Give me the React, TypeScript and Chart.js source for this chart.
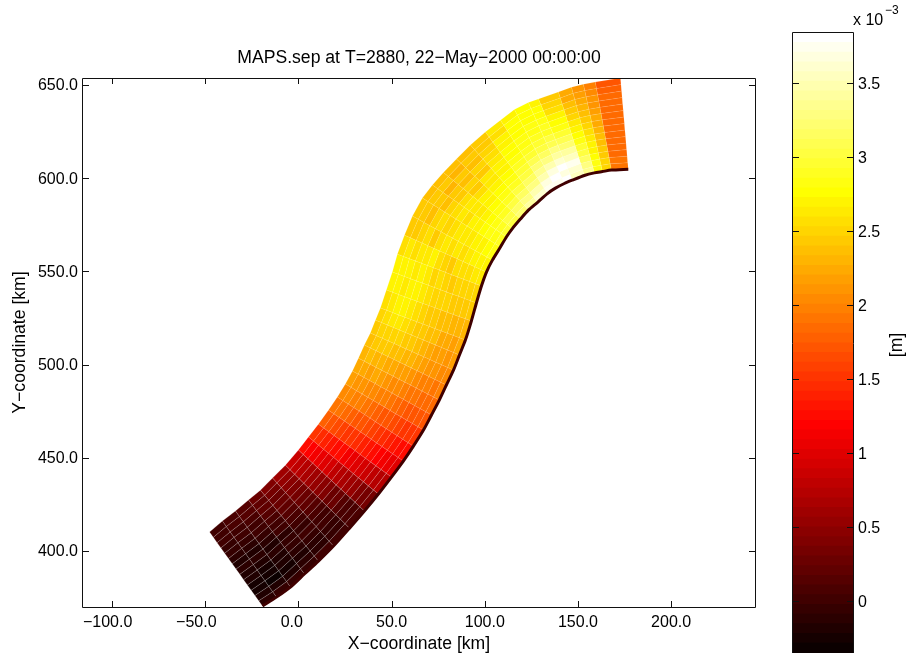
import React, { useEffect, useRef } from "react";
import { Chart, registerables } from "chart.js";

Chart.register(...registerables);

const titleText = "MAPS.sep at T=2880, 22\u2212May\u22122000 00:00:00";
const xAxisTitle = "X\u2212coordinate [km]";
const yAxisTitle = "Y\u2212coordinate [km]";
const xTickValues = [-100, -50, 0, 50, 100, 150, 200];
const xTickLabels = ["\u2212100.0  ", "\u221250.0    ", "0.0   ", "50.0", "100.0", "150.0", "200.0"];
const yTickValues = [400, 450, 500, 550, 600, 650];
const yTickLabels = ["400.0", "450.0", "500.0", "550.0", "600.0", "650.0"];
const cbarTickValues = [0, 0.5, 1, 1.5, 2, 2.5, 3, 3.5];
const cbarTickLabels = ["0", "0.5", "1", "1.5", "2", "2.5", "3", "3.5"];

// Channel banks, km: one cross-section per entry.
const leftBankX = [-47.7, -40.8, -33.8, -26.8, -20.4, -13.9, -7.0, 0, 5.4, 10.7, 16.1, 20.9, 25.2, 29.0, 32.2, 35.4, 38.6, 41.3, 44.0, 47.2, 50.4, 53.1, 56.9, 61.2, 66.5, 71.9, 77.8, 84.8, 92.3, 100.3, 108.4, 115.9, 123.4, 128.8, 139.5, 146.5, 152.9, 159.3, 172.8];
const leftBankY = [410.2, 416.1, 421.5, 427.4, 432.7, 439.2, 446.1, 454.2, 461.2, 468.1, 475.6, 482.6, 489.6, 496.6, 503.5, 510.5, 517.0, 523.9, 530.4, 540.0, 549.7, 559.3, 569.5, 579.7, 589.4, 596.4, 603.1, 610.3, 617.8, 624.8, 631.2, 636.9, 640.6, 642.6, 646.3, 648.9, 650.5, 651.6, 653.8];
const rightBankX = [-19.3, -11.8, -4.3, 3.2, 10.7, 18.8, 27.4, 35.4, 42.9, 49.9, 56.3, 61.7, 67.1, 71.4, 75.6, 79.4, 83.2, 86.4, 89.6, 92.8, 95.5, 98.2, 100.9, 104.1, 108.4, 111.6, 114.8, 119.1, 123.4, 128.2, 133.6, 137.9, 142.7, 147.0, 153.4, 158.8, 163.1, 167.9, 177.0];
const rightBankY = [370.5, 375.3, 380.7, 387.7, 394.6, 402.7, 412.3, 421.5, 430.6, 439.7, 448.3, 456.3, 464.9, 473.0, 481.0, 489.1, 497.1, 505.2, 513.2, 523.4, 533.1, 542.2, 549.7, 556.1, 563.1, 568.5, 573.0, 578.1, 582.9, 587.0, 591.8, 594.7, 597.2, 599.0, 601.5, 602.9, 603.6, 604.4, 604.9];

// Separation values (x 10^-3 m): one row per stretch, left bank to right bank.
const sepValues = [
  [0.04, 0.02, -0.01, -0.04, -0.08, -0.12, -0.16, -0.13, -0.2, -0.16, -0.24, -0.28, -0.2, -0.1],
  [0.1, 0.06, 0.02, 0, -0.06, -0.12, -0.2, -0.14, -0.18, -0.24, -0.28, -0.32, -0.22, -0.08],
  [0.16, 0.12, 0.08, 0.04, 0, -0.08, -0.14, -0.18, -0.1, -0.16, -0.2, -0.24, -0.18, -0.08],
  [0.28, 0.22, 0.18, 0.12, 0.08, 0.04, -0.02, -0.1, -0.08, -0.04, -0.12, -0.16, -0.12, -0.04],
  [0.42, 0.36, 0.3, 0.24, 0.2, 0.14, 0.08, 0.02, -0.04, -0.02, -0.08, -0.1, -0.12, -0.02],
  [0.6, 0.52, 0.46, 0.4, 0.34, 0.28, 0.22, 0.16, 0.1, 0.04, -0.02, -0.04, -0.08, 0],
  [0.85, 0.8, 0.72, 0.65, 0.58, 0.5, 0.45, 0.38, 0.3, 0.24, 0.16, 0.1, 0.05, 0.08],
  [1.25, 1.2, 1.12, 1.05, 0.98, 0.9, 0.82, 0.74, 0.68, 0.58, 0.5, 0.42, 0.36, 0.32],
  [1.5, 1.45, 1.4, 1.34, 1.28, 1.22, 1.15, 1.08, 1.02, 0.92, 0.85, 0.78, 0.72, 0.7],
  [1.75, 1.7, 1.66, 1.6, 1.54, 1.5, 1.42, 1.38, 1.3, 1.24, 1.18, 1.1, 1.05, 1.02],
  [1.92, 1.88, 1.84, 1.78, 1.74, 1.68, 1.62, 1.58, 1.52, 1.46, 1.4, 1.34, 1.28, 1.26],
  [2.05, 2.02, 1.98, 1.94, 1.9, 1.84, 1.8, 1.74, 1.7, 1.64, 1.58, 1.54, 1.5, 1.5],
  [2.14, 2.12, 2.1, 2.06, 2.04, 1.98, 1.94, 1.9, 1.86, 1.8, 1.74, 1.7, 1.68, 1.7],
  [2.22, 2.26, 2.2, 2.22, 2.14, 2.12, 2.06, 2.02, 1.98, 1.92, 1.88, 1.84, 1.82, 1.84],
  [2.3, 2.34, 2.32, 2.3, 2.26, 2.24, 2.2, 2.14, 2.1, 2.04, 2.0, 1.96, 1.9, 1.94],
  [2.38, 2.42, 2.44, 2.4, 2.38, 2.34, 2.3, 2.28, 2.22, 2.18, 2.1, 2.08, 2.02, 2.04],
  [2.46, 2.5, 2.52, 2.48, 2.5, 2.42, 2.4, 2.34, 2.32, 2.26, 2.2, 2.16, 2.12, 2.14],
  [2.52, 2.56, 2.6, 2.62, 2.55, 2.5, 2.46, 2.42, 2.36, 2.34, 2.26, 2.26, 2.2, 2.22],
  [2.58, 2.62, 2.66, 2.7, 2.62, 2.58, 2.52, 2.44, 2.46, 2.38, 2.34, 2.32, 2.28, 2.3],
  [2.66, 2.68, 2.64, 2.68, 2.72, 2.62, 2.56, 2.52, 2.48, 2.5, 2.42, 2.44, 2.4, 2.42],
  [2.7, 2.66, 2.7, 2.62, 2.66, 2.6, 2.52, 2.58, 2.5, 2.46, 2.5, 2.5, 2.48, 2.52],
  [2.56, 2.62, 2.58, 2.64, 2.6, 2.66, 2.58, 2.5, 2.46, 2.54, 2.58, 2.56, 2.6, 2.62],
  [2.46, 2.42, 2.52, 2.54, 2.46, 2.58, 2.62, 2.56, 2.6, 2.54, 2.6, 2.66, 2.68, 2.7],
  [2.42, 2.46, 2.38, 2.5, 2.56, 2.48, 2.54, 2.62, 2.64, 2.6, 2.68, 2.72, 2.76, 2.8],
  [2.38, 2.42, 2.44, 2.38, 2.5, 2.56, 2.6, 2.56, 2.66, 2.7, 2.76, 2.8, 2.84, 2.88],
  [2.36, 2.4, 2.32, 2.46, 2.44, 2.54, 2.6, 2.64, 2.62, 2.72, 2.76, 2.84, 2.9, 2.96],
  [2.34, 2.3, 2.42, 2.36, 2.5, 2.46, 2.58, 2.66, 2.7, 2.74, 2.8, 2.9, 3.0, 3.05],
  [2.36, 2.4, 2.34, 2.48, 2.44, 2.6, 2.64, 2.7, 2.76, 2.82, 2.9, 3.0, 3.12, 3.2],
  [2.46, 2.42, 2.5, 2.56, 2.6, 2.66, 2.72, 2.76, 2.8, 2.92, 3.0, 3.12, 3.28, 3.4],
  [2.6, 2.58, 2.66, 2.7, 2.74, 2.78, 2.8, 2.86, 2.95, 3.05, 3.15, 3.3, 3.5, 3.6],
  [2.72, 2.74, 2.76, 2.78, 2.8, 2.84, 2.9, 2.98, 3.08, 3.2, 3.35, 3.5, 3.7, 3.72],
  [2.74, 2.76, 2.76, 2.8, 2.84, 2.88, 2.95, 3.05, 3.15, 3.3, 3.48, 3.68, 3.8, 3.75],
  [2.7, 2.74, 2.78, 2.82, 2.86, 2.92, 3.0, 3.1, 3.25, 3.42, 3.6, 3.78, 3.65, 3.8],
  [2.46, 2.5, 2.58, 2.68, 2.76, 2.84, 2.95, 3.08, 3.22, 3.4, 3.55, 3.72, 3.6, 3.55],
  [2.22, 2.26, 2.34, 2.42, 2.5, 2.6, 2.7, 2.78, 2.85, 2.95, 3.05, 3.18, 3.28, 3.32],
  [2.12, 2.16, 2.22, 2.3, 2.36, 2.42, 2.5, 2.56, 2.62, 2.68, 2.72, 2.78, 2.8, 2.82],
  [2.0, 2.02, 2.08, 2.12, 2.18, 2.22, 2.26, 2.3, 2.34, 2.38, 2.42, 2.46, 2.5, 2.52],
  [1.72, 1.76, 1.84, 1.86, 1.87, 1.87, 1.87, 1.87, 1.87, 1.87, 1.87, 1.87, 1.88, 1.88],
];

const colorMin = -0.352;
const colorMax = 3.838;
const colorLevels = 64;

function hotColor(level: number): string {
  const t = (level + 1) / colorLevels;
  const r = Math.min(1, t / 0.375);
  const g = Math.max(0, Math.min(1, (t - 0.375) / 0.375));
  const b = Math.max(0, Math.min(1, (t - 0.75) / 0.25));
  return `rgb(${Math.round(r * 255)},${Math.round(g * 255)},${Math.round(b * 255)})`;
}
function colorFor(v: number): string {
  const level = Math.floor(((v - colorMin) / (colorMax - colorMin)) * colorLevels);
  return hotColor(Math.max(0, Math.min(colorLevels - 1, level)));
}

const FONT = "'Liberation Sans', Arial, sans-serif";
const TICK_SIZE = 16;
const LABEL_SIZE = 17.6;

const boxAndTicks = {
  id: "boxAndTicks",
  afterLayout(chart: any) {
    // Centre the title over the plot box, not over the padded canvas.
    const a = chart.chartArea;
    if (chart.titleBlock) {
      chart.titleBlock.left = a.left;
      chart.titleBlock.right = a.right;
    }
  },
  afterDatasetsDraw(chart: any) {
    const { ctx, chartArea: a, scales } = chart;
    ctx.save();
    ctx.strokeStyle = "#111";
    ctx.lineWidth = 1;
    ctx.beginPath();
    ctx.rect(a.left - 0.5, a.top + 0.5, a.right - a.left + 1, a.bottom - a.top);
    for (const t of scales.x.ticks) {
      const p = Math.round(scales.x.getPixelForValue(t.value)) + 0.5;
      ctx.moveTo(p, a.bottom);
      ctx.lineTo(p, a.bottom - 6);
      ctx.moveTo(p, a.top);
      ctx.lineTo(p, a.top + 6);
    }
    for (const t of scales.y.ticks) {
      const p = Math.round(scales.y.getPixelForValue(t.value)) + 0.5;
      ctx.moveTo(a.left, p);
      ctx.lineTo(a.left + 6, p);
      ctx.moveTo(a.right, p);
      ctx.lineTo(a.right - 6, p);
    }
    ctx.stroke();
    ctx.restore();
  },
};

const cbarDecor = {
  id: "cbarDecor",
  afterDatasetsDraw(chart: any) {
    const { ctx, chartArea: a, scales } = chart;
    ctx.save();
    ctx.strokeStyle = "#111";
    ctx.lineWidth = 1;
    ctx.beginPath();
    ctx.rect(a.left - 0.5, a.top - 0.5, a.right - a.left + 1, a.bottom - a.top + 4);
    for (const t of scales.y.ticks) {
      const p = Math.round(scales.y.getPixelForValue(t.value)) + 0.5;
      ctx.moveTo(a.left, p);
      ctx.lineTo(a.left + 6, p);
      ctx.moveTo(a.right, p);
      ctx.lineTo(a.right - 6, p);
    }
    ctx.stroke();
    ctx.fillStyle = "#000";
    ctx.textBaseline = "alphabetic";
    ctx.textAlign = "left";
    ctx.font = `${TICK_SIZE}px ${FONT}`;
    ctx.fillText("x 10", a.right, 25);
    ctx.font = `12px ${FONT}`;
    ctx.fillText("\u22123", a.right + 32, 14);
    ctx.translate(a.right + 44, 345);
    ctx.rotate(-Math.PI / 2);
    ctx.textAlign = "center";
    ctx.textBaseline = "middle";
    ctx.font = `${LABEL_SIZE}px ${FONT}`;
    ctx.fillText("[m]", 0, 0);
    ctx.restore();
  },
};

export default function App() {
  const mainRef = useRef<HTMLCanvasElement>(null);
  const barRef = useRef<HTMLCanvasElement>(null);

  useEffect(() => {
    const cells: any[] = [];
    const rows = sepValues[0].length;
    const section = (i: number, j: number) => {
      const f = j / rows;
      return {
        x: leftBankX[i] + (rightBankX[i] - leftBankX[i]) * f,
        y: leftBankY[i] + (rightBankY[i] - leftBankY[i]) * f,
      };
    };
    sepValues.forEach((row, i) => {
      row.forEach((v, j) => {
        const a = section(i, j), b = section(i + 1, j), c = section(i + 1, j + 1), d = section(i, j + 1);
        cells.push({
          data: [a, b, c, d, a],
          showLine: true,
          fill: "shape",
          backgroundColor: colorFor(v),
          borderColor: v < 0.9 ? "rgba(255,255,255,0.26)" : "rgba(255,255,255,0.14)",
          borderWidth: 0.6,
          pointRadius: 0,
          tension: 0,
        });
      });
    });
    const bankLine = {
      data: rightBankX.map((x, i) => ({ x, y: rightBankY[i] })),
      showLine: true,
      fill: false,
      borderColor: "#400000",
      borderWidth: 3,
      pointRadius: 0,
      tension: 0.25,
      clip: false,
      order: -1,
    };

    const main = new Chart(mainRef.current!, {
      type: "scatter",
      data: { datasets: [bankLine, ...cells] },
      plugins: [boxAndTicks],
      options: {
        animation: false,
        responsive: false,
        devicePixelRatio: 1,
        layout: { padding: { left: 0, right: 85, top: 48, bottom: 0 } },
        plugins: {
          legend: { display: false },
          tooltip: { enabled: false },
          title: {
            display: true,
            text: titleText,
            color: "#000",
            font: { family: FONT, size: LABEL_SIZE, weight: "normal" },
            padding: { top: 0, bottom: 8.88 },
          },
        },
        scales: {
          x: {
            type: "linear",
            min: -115.6,
            max: 245,
            grid: { display: false, drawTicks: false },
            border: { display: false },
            afterBuildTicks: (s: any) => { s.ticks = xTickValues.map((value) => ({ value })); },
            afterFit: (s: any) => { s.height = 48; s.paddingLeft = 0; s.paddingRight = 0; },
            ticks: {
              color: "#000",
              maxRotation: 0,
              autoSkip: false,
              padding: 6,
              font: { family: FONT, size: TICK_SIZE },
              callback: (_v: any, i: number) => xTickLabels[i],
            },
            title: {
              display: true,
              text: xAxisTitle,
              color: "#000",
              font: { family: FONT, size: LABEL_SIZE },
              padding: { top: 0, bottom: 0 },
            },
          },
          y: {
            type: "linear",
            min: 370,
            max: 653.8,
            grid: { display: false, drawTicks: false },
            border: { display: false },
            afterBuildTicks: (s: any) => { s.ticks = yTickValues.map((value) => ({ value })); },
            afterFit: (s: any) => { s.width = 83; s.paddingTop = 0; s.paddingBottom = 0; },
            ticks: {
              color: "#000",
              autoSkip: false,
              padding: 5,
              labelOffset: 1,
              font: { family: FONT, size: TICK_SIZE },
              callback: (_v: any, i: number) => yTickLabels[i],
            },
            title: {
              display: true,
              text: yAxisTitle,
              color: "#000",
              font: { family: FONT, size: LABEL_SIZE },
              padding: { top: 9.5, bottom: 0 },
            },
          },
        },
      },
    } as any);

    const bands: any[] = [];
    for (let k = 0; k < colorLevels; k++) {
      const step = (colorMax - colorMin) / colorLevels;
      bands.push({
        data: [[colorMin + k * step, colorMin + (k + 1) * step]],
        backgroundColor: hotColor(k),
        borderWidth: 0,
        inflateAmount: 0.6,
        grouped: false,
        barPercentage: 1,
        categoryPercentage: 1,
      });
    }
    const bar = new Chart(barRef.current!, {
      type: "bar",
      data: { labels: [""], datasets: bands },
      plugins: [cbarDecor],
      options: {
        animation: false,
        responsive: false,
        devicePixelRatio: 1,
        layout: { padding: { left: 23, right: 0, top: 33, bottom: 0 } },
        plugins: { legend: { display: false }, tooltip: { enabled: false }, title: { display: false } },
        scales: {
          x: { display: false },
          y: {
            type: "linear",
            position: "right",
            min: colorMin,
            max: colorMax,
            grid: { display: false, drawTicks: false },
            border: { display: false },
            afterBuildTicks: (s: any) => { s.ticks = cbarTickValues.map((value) => ({ value })); },
            afterFit: (s: any) => { s.width = 56; s.paddingTop = 0; s.paddingBottom = 0; },
            ticks: {
              color: "#000",
              autoSkip: false,
              padding: 5,
              labelOffset: 2,
              font: { family: FONT, size: TICK_SIZE },
              callback: (_v: any, i: number) => cbarTickLabels[i],
            },
          },
        },
      },
    } as any);

    return () => {
      main.destroy();
      bar.destroy();
    };
  }, []);

  return (
    <div style={{ position: "fixed", left: 0, top: 0, width: 909, height: 653, overflow: "hidden", background: "#fff" }}>
      <canvas ref={mainRef} width={840} height={655} style={{ position: "absolute", left: 0, top: 0 }} />
      <canvas ref={barRef} width={139} height={653} style={{ position: "absolute", left: 770, top: 0 }} />
    </div>
  );
}
